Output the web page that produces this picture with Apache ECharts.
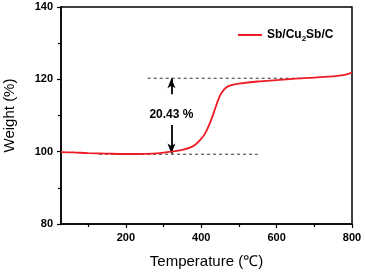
<!DOCTYPE html>
<html><head><meta charset="utf-8">
<script src="https://cdn.jsdelivr.net/npm/echarts@6/dist/echarts.min.js"></script>
<style>html,body{margin:0;padding:0;background:#fff}#c{width:365px;height:274px}</style>
</head><body><div id="c"></div>
<script>
const temps   = [28, 60, 100, 150, 200, 250, 290, 320, 350, 370, 385, 396, 410, 423, 436, 445, 454, 467, 480, 500, 550, 600, 650, 700, 750, 780, 800];
const weights = [99.9, 99.8, 99.6, 99.45, 99.35, 99.4, 99.6, 100.0, 100.5, 101.1, 102.0, 103.1, 105.0, 107.9, 111.6, 114.3, 116.3, 117.8, 118.4, 118.8, 119.4, 119.8, 120.2, 120.5, 120.8, 121.2, 121.9];
const xTicks = [200, 400, 600, 800];
const xMinorTicks = [100, 300, 500, 700];
const lowerDash = [[129, 99.3], [550, 99.3]];
const upperDash = [[258, 120.3], [665, 120.3]];
const arrowX = 321;
const arrowUp = [115.9, 120.3];
const arrowDown = [107.4, 99.5];
const labelPos = [321, 110.1];
const labelText = '20.43 %';
const seriesName = 'Sb/Cu2Sb/C';

const font = '"Liberation Sans", Arial, sans-serif';
const chart = echarts.init(document.getElementById('c'));
chart.setOption({
  animation: false,
  grid: {left: 61, right: 13, top: 7, bottom: 50, outerBoundsMode: 'none', containLabel: false, show: true, borderColor: '#000', borderWidth: 1.5},
  legend: {
    data: [{name: seriesName, icon: 'rect', itemStyle: {color: '#ee1c24'}}],
    left: 233, top: 24, itemWidth: 24, itemHeight: 2, itemGap: 5,
    formatter: () => '{a|Sb/Cu}{s|2}{a|Sb/C}',
    textStyle: {rich: {
      a: {fontFamily: font, fontWeight: 'bold', fontSize: 12, color: '#000'},
      s: {fontFamily: font, fontWeight: 'bold', fontSize: 8, color: '#000', verticalAlign: 'bottom', padding: [8, 0, 0, 0]}
    }}
  },
  xAxis: [{
    type: 'value', min: 28, max: 800,
    name: 'Temperature (℃)', nameLocation: 'middle', nameGap: 30,
    nameTextStyle: {fontFamily: font, fontSize: 15, color: '#000'},
    axisLine: {lineStyle: {color: '#000', width: 1.5}},
    axisTick: {customValues: xTicks, length: 4, inside: false, lineStyle: {color: '#000', width: 1.2}},
    axisLabel: {customValues: xTicks, margin: 8, fontFamily: font, fontWeight: 'bold', fontSize: 11, color: '#000'},
    splitLine: {show: false}
  }, {
    type: 'value', min: 28, max: 800, position: 'bottom', gridIndex: 0,
    axisLine: {show: false},
    axisTick: {customValues: xMinorTicks, length: 3, lineStyle: {color: '#000', width: 1.2}},
    axisLabel: {show: false}, splitLine: {show: false}
  }],
  yAxis: {
    type: 'value', min: 80, max: 140, interval: 20,
    name: 'Weight (%)', nameLocation: 'middle', nameGap: 44,
    nameTextStyle: {fontFamily: font, fontSize: 15, color: '#000'},
    axisLine: {show: true, lineStyle: {color: '#000', width: 1.5}},
    axisTick: {show: true, length: 4, lineStyle: {color: '#000', width: 1.2}},
    minorTick: {show: true, splitNumber: 2, length: 3, lineStyle: {color: '#000', width: 1.2}},
    axisLabel: {margin: 8, fontFamily: font, fontWeight: 'bold', fontSize: 11, color: '#000'},
    splitLine: {show: false}
  },
  series: [
    {
      name: 'lowerDash', type: 'line', data: lowerDash, symbol: 'none', silent: true,
      lineStyle: {color: '#333', width: 1, type: [3, 3]}
    },
    {
      name: 'upperDash', type: 'line', data: upperDash, symbol: 'none', silent: true,
      lineStyle: {color: '#333', width: 1, type: [3, 3]}
    },
    {
      name: seriesName, type: 'line', data: temps.map((t, i) => [t, weights[i]]),
      symbol: 'none', smooth: 0.35, z: 5,
      lineStyle: {color: '#ee1c24', width: 1.8}, itemStyle: {color: '#ee1c24'},
      markLine: {
        silent: true, symbol: ['none', 'arrow'], symbolSize: [6, 10],
        lineStyle: {color: '#000', width: 1.8, type: 'solid'}, label: {show: false},
        data: [
          [{coord: [arrowX, arrowUp[0]]}, {coord: [arrowX, arrowUp[1]]}],
          [{coord: [arrowX, arrowDown[0]]}, {coord: [arrowX, arrowDown[1]]}]
        ]
      },
      markPoint: {
        silent: true, symbol: 'circle', symbolSize: 0,
        label: {show: true, formatter: labelText, fontFamily: font, fontWeight: 'bold', fontSize: 12, color: '#000', position: 'inside'},
        data: [{coord: labelPos}]
      }
    }
  ]
});
</script></body></html>
